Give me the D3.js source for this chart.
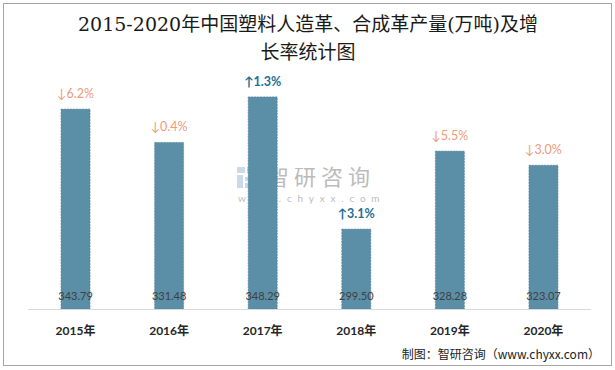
<!DOCTYPE html>
<html>
<head>
<meta charset="utf-8">
<script src="https://cdn.jsdelivr.net/npm/d3@7"></script>
<style>
  body { margin: 0; background: #fff; }
</style>
</head>
<body>
<div id="chart"></div>
<script>
const years = ['2015年', '2016年', '2017年', '2018年', '2019年', '2020年'];
const output = [343.79, 331.48, 348.29, 299.50, 328.28, 323.07];
const growth = [-6.2, -0.4, 1.3, 3.1, -5.5, -3.0];

const width = 615;
const height = 370;
const cjk = '"Noto Sans CJK SC", sans-serif';
const num = 'Lato, "Noto Sans CJK SC", sans-serif';

const svg = d3.select('#chart')
  .append('svg')
  .attr('width', width)
  .attr('height', height);

// outer frame
svg.append('rect')
  .attr('x', 3.5).attr('y', 3.5)
  .attr('width', 608).attr('height', 362)
  .attr('fill', 'none')
  .attr('stroke', '#a6a6a6');

// title
const title = svg.append('text')
  .attr('text-anchor', 'middle')
  .style('font-family', '"DejaVu Serif", "Noto Sans CJK SC", serif')
  .style('font-size', '19px')
  .style('font-weight', 'normal')
  .attr('fill', '#1a1a1a');
title.append('tspan').attr('x', 308).attr('y', 31).text('2015-2020年中国塑料人造革、合成革产量(万吨)及增');
title.append('tspan').attr('x', 308).attr('y', 59).text('长率统计图');

const x = d3.scaleBand()
  .domain(years)
  .range([28.75, 590.25])
  .paddingInner(0.69)
  .paddingOuter(0.345);

const y = d3.scaleLinear()
  .domain([270, 380])
  .range([309, 11]);

// watermark
const wm = svg.append('g').attr('opacity', 0.6);
const logo = [[237, 167, 8, 6], [247, 167, 8, 6], [237, 175, 6, 13], [245, 177, 8, 4], [245, 183, 12, 5], [257, 170, 4, 12]];
logo.forEach(r => wm.append('rect')
  .attr('x', r[0]).attr('y', r[1]).attr('width', r[2]).attr('height', r[3])
  .attr('fill', '#a9c0dc'));
wm.append('text')
  .attr('x', 267).attr('y', 185)
  .style('font-family', cjk).style('font-size', '22px')
  .attr('fill', '#8f8f8f')
  .attr('letter-spacing', '5px')
  .text('智研咨询');
wm.append('text')
  .attr('x', 238).attr('y', 202)
  .style('font-family', num).style('font-size', '10px')
  .attr('fill', '#8f8f8f')
  .attr('letter-spacing', '5.8px')
  .text('www.chyxx.com');

// bars
svg.selectAll('.bar')
  .data(output)
  .enter()
  .append('rect')
  .attr('class', 'bar')
  .attr('x', (d, i) => x(years[i]))
  .attr('y', d => y(d))
  .attr('width', x.bandwidth())
  .attr('height', d => y(270) - y(d))
  .attr('fill', '#5b8fa7')
  .attr('stroke', '#4d7f97')
  .attr('stroke-width', 0.6)
  .attr('stroke-dasharray', '2,1');

// value labels inside bars
svg.selectAll('.val')
  .data(output)
  .enter()
  .append('text')
  .attr('x', (d, i) => x(years[i]) + x.bandwidth() / 2)
  .attr('y', 300)
  .attr('text-anchor', 'middle')
  .style('font-family', num)
  .style('font-size', '11px')
  .attr('fill', '#404040')
  .text(d => d.toFixed(2));

// growth labels
svg.selectAll('.gr')
  .data(growth)
  .enter()
  .append('text')
  .attr('x', (d, i) => x(years[i]) + x.bandwidth() / 2)
  .attr('y', (d, i) => y(output[i]) - 11)
  .attr('text-anchor', 'middle')
  .style('font-family', num)
  .style('font-size', '12.5px')
  .style('font-weight', d => d > 0 ? 'bold' : 'normal')
  .attr('fill', d => d > 0 ? '#1f6e96' : '#f09a7a')
  .text(d => (d > 0 ? '↑' : '↓') + Math.abs(d).toFixed(1) + '%');

// x axis
svg.append('line')
  .attr('x1', 28).attr('x2', 591)
  .attr('y1', 309.5).attr('y2', 309.5)
  .attr('stroke', '#d9d9d9');

svg.selectAll('.year')
  .data(years)
  .enter()
  .append('text')
  .attr('x', d => x(d) + x.bandwidth() / 2)
  .attr('y', 335)
  .attr('text-anchor', 'middle')
  .style('font-family', num)
  .style('font-size', '12px')
  .style('font-weight', 'bold')
  .attr('fill', '#262626')
  .text(d => d);

// footer
svg.append('text')
  .attr('x', 600).attr('y', 359)
  .attr('text-anchor', 'end')
  .style('font-family', cjk)
  .style('font-size', '12px')
  .attr('fill', '#222')
  .text('制图：智研咨询（www.chyxx.com）');
</script>
</body>
</html>
